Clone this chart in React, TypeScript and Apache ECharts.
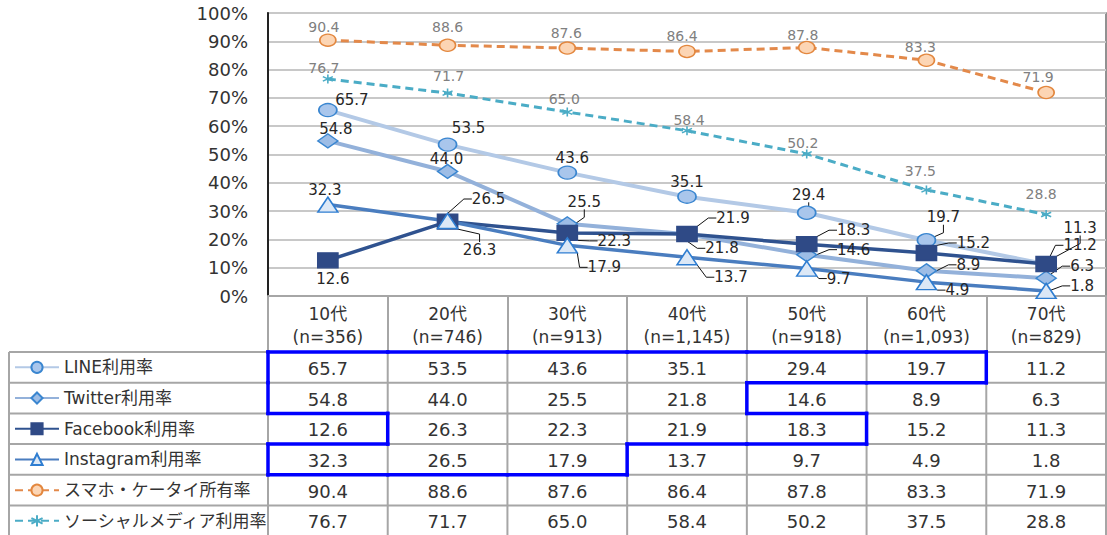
import React, { useEffect, useRef } from "react";
import * as echarts from "echarts";

// ---- data ----
const ages = ["10代", "20代", "30代", "40代", "50代", "60代", "70代"];
const sampleSizes = ["356", "746", "913", "1,145", "918", "1,093", "829"];
const seriesNames = [
  "LINE利用率",
  "Twitter利用率",
  "Facebook利用率",
  "Instagram利用率",
  "スマホ・ケータイ所有率",
  "ソーシャルメディア利用率",
];
const lineValues = [65.7, 53.5, 43.6, 35.1, 29.4, 19.7, 11.2];
const twitterValues = [54.8, 44.0, 25.5, 21.8, 14.6, 8.9, 6.3];
const facebookValues = [12.6, 26.3, 22.3, 21.9, 18.3, 15.2, 11.3];
const instagramValues = [32.3, 26.5, 17.9, 13.7, 9.7, 4.9, 1.8];
const phoneValues = [90.4, 88.6, 87.6, 86.4, 87.8, 83.3, 71.9];
const socialValues = [76.7, 71.7, 65.0, 58.4, 50.2, 37.5, 28.8];
const HIGHLIGHT_MIN = 16; // cells at or above this value (SNS rows) are outlined in blue

// ---- label placement (offsets from point, px) ----
const lineOffsets = [[24, -10], [21, -17], [5, -15], [0, -15], [2, -18], [17, -23], [34, -19]];
const lineLeaders = [0, 0, 0, 0, 1, 1, 1];
const twitterOffsets = [[8, -12], [-1, -12], [17, -22], [35, 14], [47, -5], [42, -6], [36, -12]];
const twitterLeaders = [0, 0, 1, 1, 1, 1, 1];
const facebookOffsets = [[5, 19], [32, 28], [47, 8], [46, -16], [47, -14], [47, -10], [34, -36]];
const facebookLeaders = [0, 1, 1, 1, 1, 1, 1];
const instagramOffsets = [[-3, -15], [41, -22], [37, 22], [44, 20], [32, 10], [31, 8], [36, -5]];
const instagramLeaders = [0, 1, 1, 1, 1, 1, 1];
const phoneOffsets = [[-4, -13], [0, -18], [-1, -15], [-5, -15], [-4, -13], [-6, -13], [-8, -16]];
const socialOffsets = [[-4, -11], [1, -17], [-3, -13], [2, -11], [-4, -11], [-6, -19], [-5, -20]];
const noLeaders = [0, 0, 0, 0, 0, 0, 0];

const FONT = "'DejaVu Sans', 'Noto Sans CJK JP', sans-serif";
const GRID_LEFT = 268;
const GRID_TOP = 13;
const GRID_H = 283;
const TABLE_TOP = 352;
const ROW_H = 30.7;
const TABLE_LEFT = 9;
const LEGEND_H = 20;
const ASTERISK = "path://M5,0 L5,10 M0.7,2.5 L9.3,7.5 M0.7,7.5 L9.3,2.5";

function makeSeries(
  name: string,
  values: number[],
  opts: {
    color: string;
    width: number;
    dashed?: boolean;
    symbol: string;
    symbolSize: number[];
    fill: string;
    border: string;
    offsets: number[][];
    leaders: number[];
    labelColor: string;
    labelSize: number;
  }
) {
  return {
    type: "line",
    name,
    data: values.map((v, i) => ({ value: v, labelLine: { show: !!opts.leaders[i] } })),
    symbol: opts.symbol,
    symbolSize: opts.symbolSize,
    showAllSymbol: true,
    lineStyle: {
      color: opts.color,
      width: opts.width,
      type: opts.dashed ? [8, 5] : "solid",
    },
    itemStyle: { color: opts.fill, borderColor: opts.border, borderWidth: 1.5 },
    label: {
      show: true,
      position: "inside",
      formatter: (p: any) => Number(p.value).toFixed(1),
      color: opts.labelColor,
      fontSize: opts.labelSize,
      lineHeight: opts.labelSize,
      fontFamily: FONT,
    },
    labelLine: { show: false, length2: 8, lineStyle: { color: "#111", width: 1 } },
    labelLayout: (p: any) => ({
      dx: opts.offsets[p.dataIndex][0],
      dy: opts.offsets[p.dataIndex][1],
    }),
    emphasis: { disabled: true },
  };
}

export default function App() {
  const ref = useRef<HTMLDivElement>(null);
  useEffect(() => {
    if (!ref.current) return;
    const chart = echarts.init(ref.current, undefined, { renderer: "svg" });
    const option: any = {
      animation: false,
      textStyle: { fontFamily: FONT },
      grid: {
        left: GRID_LEFT,
        top: GRID_TOP,
        right: 1,
        height: GRID_H,
        show: true,
        borderColor: "#6e6e6e",
        borderWidth: 1.5,
      },
      legend: seriesNames.map((n, r) => ({
        orient: "horizontal",
        left: 14,
        top: TABLE_TOP + r * ROW_H + (ROW_H - LEGEND_H) / 2,
        padding: 0,
        itemWidth: 44,
        itemHeight: 14,
        textStyle: { fontSize: 17, color: "#333", lineHeight: LEGEND_H, fontFamily: FONT },
        data: [n],
        selectedMode: false,
      })),
      xAxis: {
        type: "category",
        data: ages,
        boundaryGap: true,
        axisLine: { lineStyle: { color: "#a6a6a6", width: 2 } },
        axisTick: {
          show: true,
          length: TABLE_TOP - (GRID_TOP + GRID_H),
          interval: 0,
          lineStyle: { color: "#a6a6a6", width: 2 },
        },
        axisLabel: {
          interval: 0,
          margin: 6,
          fontSize: 17,
          lineHeight: 23,
          color: "#333",
          formatter: (v: string, i: number) => `${v}\n(n=${sampleSizes[i]})`,
        },
        splitLine: { show: false },
      },
      yAxis: {
        type: "value",
        min: 0,
        max: 100,
        interval: 10,
        axisLine: { show: true, lineStyle: { color: "#222", width: 2 } },
        axisTick: { show: false },
        axisLabel: { formatter: "{value}%", fontSize: 18, color: "#333", margin: 20 },
        splitLine: { lineStyle: { color: "#c8c8c8", width: 2 } },
      },
      series: [
        makeSeries(seriesNames[0], lineValues, {
          color: "#b3c9e6", width: 4, symbol: "circle", symbolSize: [18, 13],
          fill: "#a9c6ec", border: "#3a86d0", offsets: lineOffsets, leaders: lineLeaders,
          labelColor: "#262626", labelSize: 15,
        }),
        makeSeries(seriesNames[1], twitterValues, {
          color: "#93b1da", width: 4, symbol: "diamond", symbolSize: [20, 14],
          fill: "#9dbde6", border: "#3a86d0", offsets: twitterOffsets, leaders: twitterLeaders,
          labelColor: "#262626", labelSize: 15,
        }),
        makeSeries(seriesNames[2], facebookValues, {
          color: "#2f528f", width: 3.5, symbol: "rect", symbolSize: [20, 15],
          fill: "#2f4a86", border: "#2f4a86", offsets: facebookOffsets, leaders: facebookLeaders,
          labelColor: "#262626", labelSize: 15,
        }),
        makeSeries(seriesNames[3], instagramValues, {
          color: "#4a7dbf", width: 3.5, symbol: "triangle", symbolSize: [20, 15],
          fill: "#dce8f6", border: "#2e7dd1", offsets: instagramOffsets, leaders: instagramLeaders,
          labelColor: "#262626", labelSize: 15,
        }),
        makeSeries(seriesNames[4], phoneValues, {
          color: "#e3894a", width: 3, dashed: true, symbol: "circle", symbolSize: [16, 12],
          fill: "#fcd5b4", border: "#e3873e", offsets: phoneOffsets, leaders: noLeaders,
          labelColor: "#808080", labelSize: 14,
        }),
        makeSeries(seriesNames[5], socialValues, {
          color: "#4bacc6", width: 3, dashed: true, symbol: ASTERISK, symbolSize: [10, 9],
          fill: "#4bacc6", border: "#4bacc6", offsets: socialOffsets, leaders: noLeaders,
          labelColor: "#808080", labelSize: 14,
        }),
      ],
    };
    chart.setOption(option);

    // ---- data table below the axis, aligned to the category axis ----
    const centers = ages.map((_, i) => chart.convertToPixel({ xAxisIndex: 0 }, i) as number);
    const colW = centers[1] - centers[0];
    const bounds = [...centers.map((c) => c - colW / 2), centers[centers.length - 1] + colW / 2];
    const rows = [lineValues, twitterValues, facebookValues, instagramValues, phoneValues, socialValues];
    const tableBottom = TABLE_TOP + rows.length * ROW_H;
    const gray = { stroke: "#a6a6a6", lineWidth: 2 };
    const els: any[] = [];
    for (let r = 0; r <= rows.length; r++) {
      const y = TABLE_TOP + r * ROW_H;
      els.push({
        type: "line",
        shape: { x1: TABLE_LEFT, y1: y, x2: bounds[bounds.length - 1], y2: y },
        style: gray,
        z: 10,
      });
    }
    els.push({
      type: "line",
      shape: { x1: TABLE_LEFT, y1: TABLE_TOP, x2: TABLE_LEFT, y2: tableBottom },
      style: gray,
      z: 10,
    });
    bounds.forEach((x) => {
      els.push({ type: "line", shape: { x1: x, y1: TABLE_TOP, x2: x, y2: tableBottom }, style: gray, z: 10 });
    });
    rows.forEach((vals, r) => {
      vals.forEach((v, c) => {
        els.push({
          type: "text",
          x: centers[c],
          y: TABLE_TOP + r * ROW_H + ROW_H / 2 + 1,
          style: {
            text: v.toFixed(1),
            fontSize: 18,
            fontFamily: FONT,
            fill: "#333",
            align: "center",
            verticalAlign: "middle",
          },
          z: 11,
        });
      });
    });
    // blue outline around cells at or above the threshold (SNS rows only)
    const inMask = (r: number, c: number) =>
      r >= 0 && r < 4 && c >= 0 && c < ages.length && rows[r][c] >= HIGHLIGHT_MIN;
    const blue = { stroke: "#0000ff", lineWidth: 3.5, lineCap: "square" };
    for (let r = 0; r < 4; r++) {
      for (let c = 0; c < ages.length; c++) {
        if (!inMask(r, c)) continue;
        const x1 = bounds[c], x2 = bounds[c + 1];
        const y1 = TABLE_TOP + r * ROW_H, y2 = y1 + ROW_H;
        if (!inMask(r - 1, c)) els.push({ type: "line", shape: { x1, y1, x2, y2: y1 }, style: blue, z: 12 });
        if (!inMask(r + 1, c)) els.push({ type: "line", shape: { x1, y1: y2, x2, y2 }, style: blue, z: 12 });
        if (!inMask(r, c - 1)) els.push({ type: "line", shape: { x1, y1, x2: x1, y2 }, style: blue, z: 12 });
        if (!inMask(r, c + 1)) els.push({ type: "line", shape: { x1: x2, y1, x2, y2 }, style: blue, z: 12 });
      }
    }
    chart.setOption({ graphic: { elements: els } });

    return () => chart.dispose();
  }, []);
  return (
    <div
      ref={ref}
      style={{ position: "absolute", left: 0, top: 0, width: 1107, height: 535, background: "#fff" }}
    />
  );
}
